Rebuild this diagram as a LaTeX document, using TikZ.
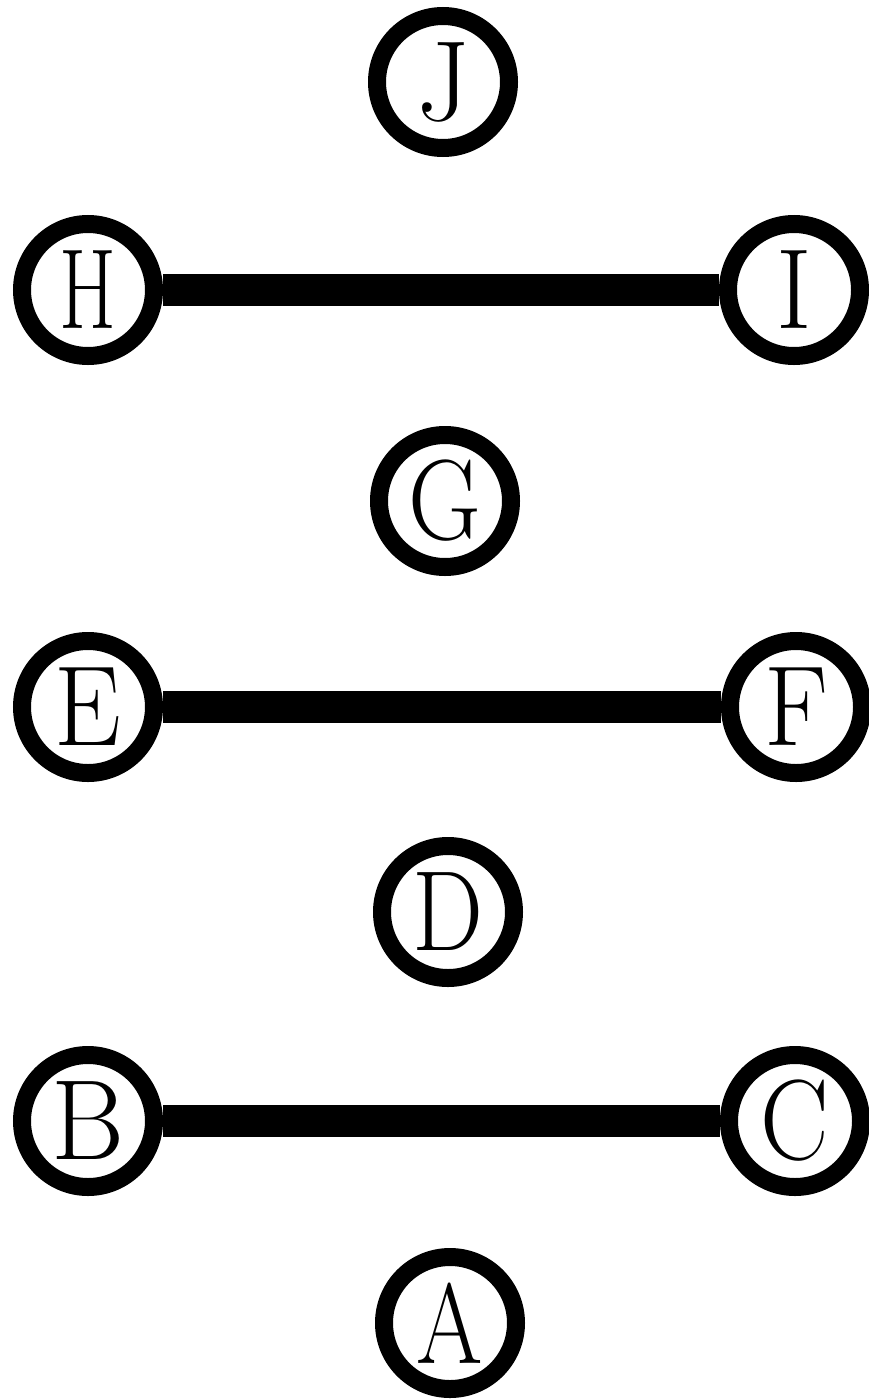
\documentclass[tikz,border=0pt]{standalone}
\usepackage{graphicx}
\begin{document}
\begin{tikzpicture}[x=1pt,y=-1pt,
  ring/.style={circle,draw=black,fill=white,line width=18pt,minimum size=132pt,inner sep=0pt,
    font=\fontsize{114}{114}\selectfont},
  bar/.style={line width=32pt,black}]
\useasboundingbox (0,0) rectangle (869,1400);
\node[ring] (J) at (443,82) {\scalebox{1.0}[1]{J}};
\node[ring] (H) at (88,290) {\scalebox{0.72}[1]{H}};
\node[ring] (I) at (794,290) {\scalebox{0.95}[1]{I}};
\node[ring] (G) at (445,501) {\scalebox{0.88}[1]{G}};
\node[ring] (E) at (88,707) {\scalebox{0.93}[1]{E}};
\node[ring] (F) at (796,707) {\scalebox{0.93}[1]{F}};
\node[ring] (D) at (448,912) {\scalebox{0.88}[1]{D}};
\node[ring] (B) at (88,1121) {\scalebox{0.98}[1]{B}};
\node[ring] (C) at (795,1121) {\scalebox{0.9}[1]{C}};
\node[ring] (A) at (450,1323) {\scalebox{0.84}[1]{A}};
\draw[bar] (H) -- (I);
\draw[bar] (E) -- (F);
\draw[bar] (B) -- (C);
\end{tikzpicture}
\end{document}
